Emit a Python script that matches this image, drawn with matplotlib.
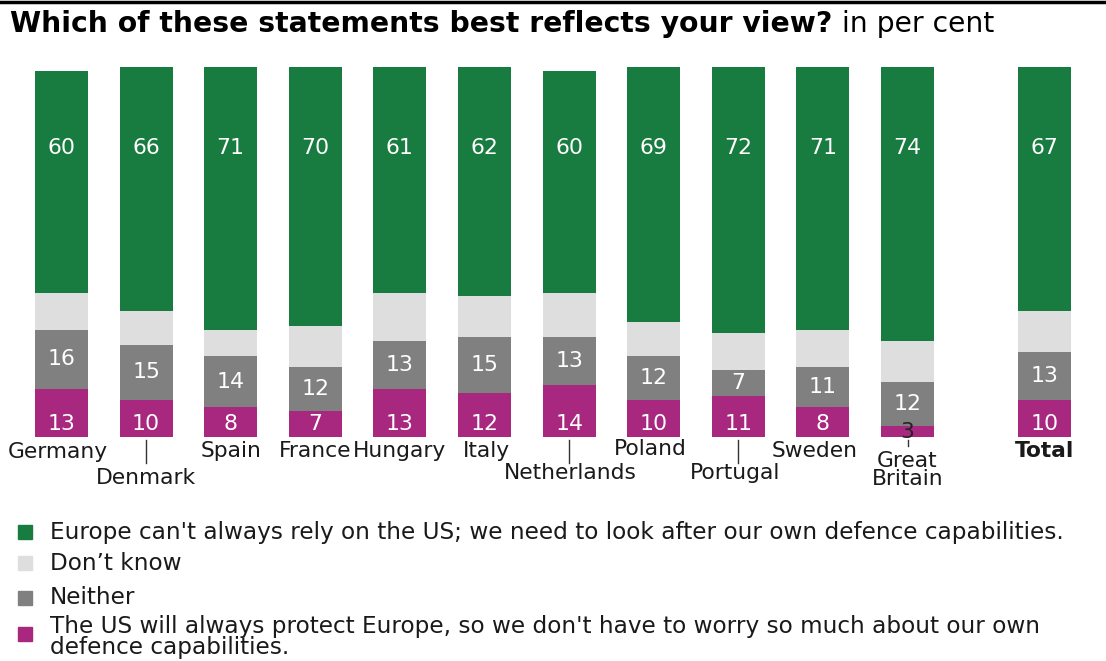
import matplotlib
matplotlib.use("Agg")
import matplotlib.pyplot as plt
import numpy as np

# ---- data ----
countries = ["Germany", "Denmark", "Spain", "France", "Hungary", "Italy",
             "Netherlands", "Poland", "Portugal", "Sweden", "Great\nBritain", "Total"]
rely_on_selves = [60, 66, 71, 70, 61, 62, 60, 69, 72, 71, 74, 67]
dont_know = [10, 9, 7, 11, 13, 11, 12, 9, 10, 10, 11, 11]
neither = [16, 15, 14, 12, 13, 15, 13, 12, 7, 11, 12, 13]
us_protects = [13, 10, 8, 7, 13, 12, 14, 10, 11, 8, 3, 10]
legend_labels = [
    "Europe can't always rely on the US; we need to look after our own defence capabilities.",
    "Don’t know",
    "Neither",
    "The US will always protect Europe, so we don't have to worry so much about our own\ndefence capabilities.",
]

GREEN = "#187b40"
LIGHT = "#dedede"
GREY = "#808080"
MAGENTA = "#a8287f"
FONT = "DejaVu Sans"

W, H = 1106, 661
fig = plt.figure(figsize=(W / 100, H / 100), dpi=100)
renderer = fig.canvas.get_renderer()

def fit_size(text, target_px, weight="normal", family=FONT):
    t = fig.text(0, 0, text, fontsize=10, fontweight=weight, family=family)
    wpx = t.get_window_extent(renderer).width
    t.remove()
    return 10 * target_px / wpx

# bar positions (index units); Total set apart
pos = np.array(list(range(11)) + [11.62])
step = 84.6
x0px = 61.5
ax = fig.add_axes([0, 1 - 437 / H, 1, 370 / H])
ax.set_xlim(-x0px / step, (W - x0px) / step)
ax.set_ylim(0, 100)
ax.axis("off")

w = 0.627
b1 = np.array(us_protects)
b2 = b1 + np.array(neither)
b3 = b2 + np.array(dont_know)
ax.bar(pos, us_protects, w, color=MAGENTA)
ax.bar(pos, neither, w, bottom=b1, color=GREY)
ax.bar(pos, dont_know, w, bottom=b2, color=LIGHT)
ax.bar(pos, rely_on_selves, w, bottom=b3, color=GREEN)

vfs = fit_size("60", 28)
for i, p in enumerate(pos):
    ax.text(p, 78, str(rely_on_selves[i]), ha="center", va="center", color="white",
            fontsize=vfs, family=FONT)
    ax.text(p, b1[i] + neither[i] / 2, str(neither[i]), ha="center", va="center",
            color="white", fontsize=vfs, family=FONT)
    if us_protects[i] >= 5:
        ax.text(p, 3.5, str(us_protects[i]), ha="center", va="center", color="white",
                fontsize=vfs, family=FONT)
    else:
        ax.text(p, 1.4, str(us_protects[i]), ha="center", va="center", color="#222222",
                fontsize=vfs, family=FONT)

def px2y(py):
    return (437 - py) / 3.7

cfs = fit_size("Germany", 100)
label_info = {
    0: (-0.04, 452, False),
    1: (0.0, 478, True),
    2: (0.0, 451, False),
    3: (0.0, 451, False),
    4: (0.0, 451, False),
    5: (0.02, 451, False),
    6: (0.02, 473, True),
    7: (-0.04, 449, False),
    8: (-0.04, 473, True),
    9: (-0.1, 451, False),
    10: (0.0, 470, True),
    11: (0.0, 451, False),
}
for i, p in enumerate(pos):
    dx, py, leader = label_info[i]
    bold = countries[i] == "Total"
    ax.text(p + dx, px2y(py), countries[i], ha="center", va="center", fontsize=cfs,
            family=FONT, fontweight="bold" if bold else "normal", color="#1a1a1a",
            linespacing=0.85, clip_on=False)
    if leader:
        if i == 10:
            ax.plot([p, p], [px2y(440), px2y(446)], color="#333333", lw=1, clip_on=False)
        else:
            ax.plot([p, p], [px2y(440), px2y(463)], color="#333333", lw=1, clip_on=False)

# title
title_bold = "Which of these statements best reflects your view?"
tfs = fit_size(title_bold, 823, weight="bold")
t1 = fig.text(10 / W, 1 - 24 / H, title_bold, fontsize=tfs, fontweight="bold",
              family=FONT, va="center", ha="left")
bb = t1.get_window_extent(renderer)
sfs = fit_size("in per cent", 152)
fig.text((bb.x1 + 10) / W, 1 - 24 / H, "in per cent", fontsize=sfs, family=FONT,
         va="center", ha="left")

# top border
fig.add_artist(plt.Line2D([0, 1], [1 - 1.5 / H, 1 - 1.5 / H], color="black", lw=2.5))

# legend
lfs = fit_size(legend_labels[0], 1010)
leg_y = [533, 564, 597, 637]
sq_y = [532, 563, 598, 634]
leg_c = [GREEN, LIGHT, GREY, MAGENTA]
for yy, sy, c, lab in zip(leg_y, sq_y, leg_c, legend_labels):
    sq = 14
    fig.add_artist(plt.Rectangle((18 / W, 1 - (sy + sq / 2) / H), sq / W, sq / H,
                                 color=c, transform=fig.transFigure))
    fig.text(50 / W, 1 - yy / H, lab, fontsize=lfs, family=FONT,
             va="center", ha="left", linespacing=0.88, color="#1a1a1a")

fig.savefig("out.png", dpi=100)
